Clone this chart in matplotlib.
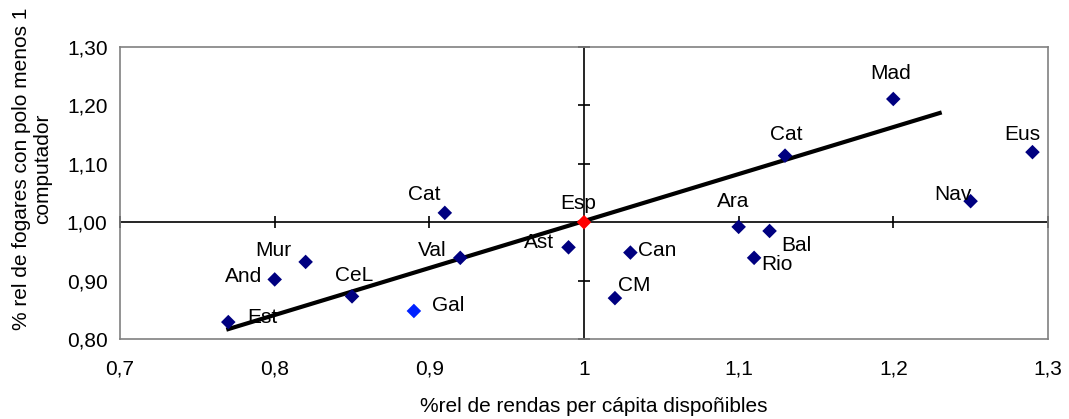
import matplotlib.pyplot as plt

# data
regions = ["Est", "And", "Mur", "CeL", "Gal", "Cat", "Val", "Ast", "Esp", "Can",
           "CM", "Ara", "Bal", "Rio", "Cat", "Mad", "Nav", "Eus"]
renda = [0.77, 0.80, 0.82, 0.85, 0.89, 0.91, 0.92, 0.99, 1.00, 1.03,
         1.02, 1.10, 1.12, 1.11, 1.13, 1.20, 1.25, 1.29]
computador = [0.829, 0.902, 0.932, 0.873, 0.848, 1.016, 0.939, 0.957, 1.00, 0.948,
              0.870, 0.992, 0.985, 0.939, 1.114, 1.211, 1.036, 1.120]
colors = ["#000080"] * 18
colors[4] = "#0022FF"   # Gal
colors[8] = "#FF0000"   # Esp

# label offsets in pixels (dx, dy)
offsets = [(34, 5), (-31, 3), (-32, 11), (2, 21), (34, 5), (-21, 18), (-28, 7),
           (-30, 5), (-6, 19), (27, 2), (19, 13), (-6, 25), (27, -15), (23, -7),
           (1, 21), (-3, 25), (-18, 7), (-10, 18)]

trend_x = [0.77, 1.23]
trend_y = [0.817, 1.187]

xticks = [0.7, 0.8, 0.9, 1.0, 1.1, 1.2, 1.3]
xticklabels = ["0,7", "0,8", "0,9", "1", "1,1", "1,2", "1,3"]
yticks = [0.80, 0.90, 1.00, 1.10, 1.20, 1.30]
yticklabels = ["0,80", "0,90", "1,00", "1,10", "1,20", "1,30"]

plt.rcParams['font.family'] = ['Liberation Sans', 'DejaVu Sans']
fs = 15

fig = plt.figure(figsize=(10.69, 4.19), dpi=100)
ax = fig.add_axes([0.1123, 0.1909, 0.8680, 0.6969])

ax.set_xlim(0.7, 1.3)
ax.set_ylim(0.8, 1.3)
for s in ax.spines.values():
    s.set_color("#808080")
    s.set_linewidth(1.2)

ax.set_xticks(xticks)
ax.set_xticklabels(xticklabels, fontsize=fs)
ax.set_yticks(yticks)
ax.set_yticklabels(yticklabels, fontsize=fs)
ax.tick_params(axis='x', length=0, pad=15)
ax.tick_params(axis='y', length=0, pad=9)

# crossing axes at (1, 1)
ax.axhline(1.0, color="black", lw=1.2, zorder=1)
ax.axvline(1.0, color="black", lw=1.2, zorder=1)
xt = [t for t in xticks if t != 1.0]
yt = [t for t in yticks if t != 1.0]
ax.plot(xt, [1.0] * len(xt), ls="none", marker="|", markersize=9, color="black",
        markeredgewidth=1.2, clip_on=False, zorder=1)
ax.plot([1.0] * len(yt), yt, ls="none", marker="_", markersize=9, color="black",
        markeredgewidth=1.2, clip_on=False, zorder=1)

ax.plot(trend_x, trend_y, color="black", lw=3, zorder=3)
ax.scatter(renda, computador, marker="D", s=55, c=colors, edgecolors="none", zorder=4)

for name, x, y, (dx, dy) in zip(regions, renda, computador, offsets):
    ax.annotate(name, (x, y), xytext=(dx, dy), textcoords="offset pixels",
                ha="center", va="center", fontsize=fs, zorder=5)

ax.set_xlabel("%rel de rendas per cápita dispoñibles", fontsize=fs, va="center")
ax.xaxis.set_label_coords(0.511, -0.23)
ax.set_ylabel("% rel de fogares con polo menos 1\ncomputador", fontsize=fs,
              va="center", linespacing=1.15)
ax.yaxis.set_label_coords(-0.0947, 0.583)

fig.savefig("out.png", dpi=100)
